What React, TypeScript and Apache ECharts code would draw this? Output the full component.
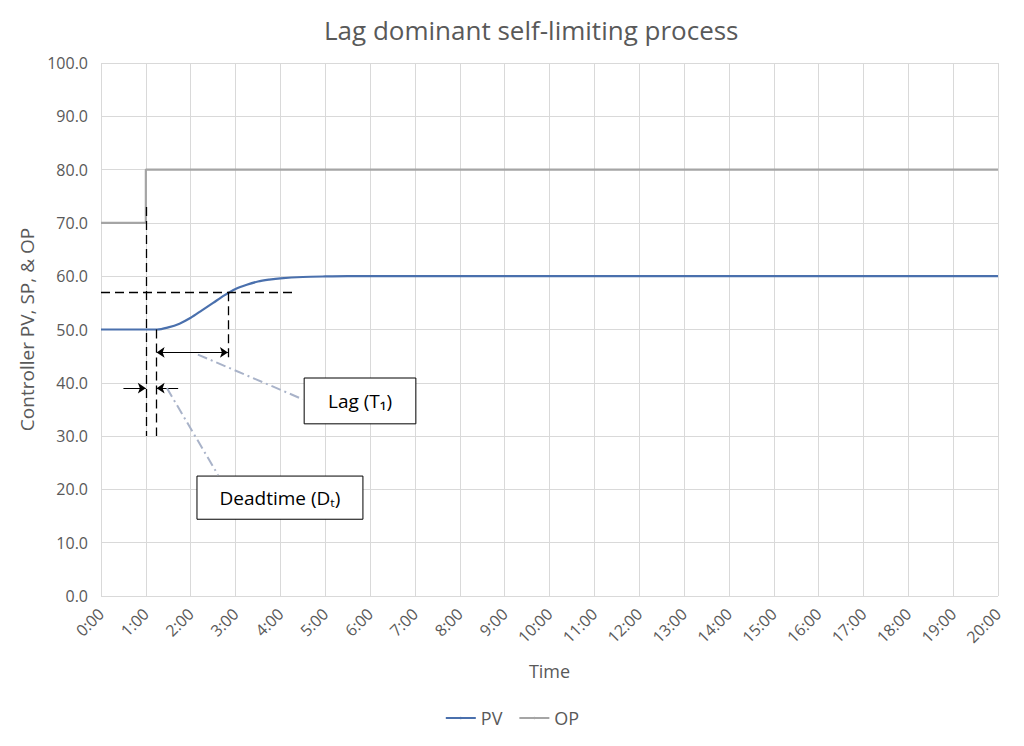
import React, { useEffect, useRef } from "react";
import * as echarts from "echarts";

const TITLE = "Lag dominant self-limiting process";
const seriesNames = ["PV", "OP"];
// time in minutes
const pvTime = [0, 1, 1.25, 1.5, 1.75, 2, 2.25, 2.5, 2.75, 3, 3.25, 3.5, 3.75, 4, 4.5, 5, 5.5, 6, 20];
const pvValues = [50, 50, 50, 50.4, 51.1, 52.2, 53.6, 55.0, 56.4, 57.6, 58.4, 59.0, 59.35, 59.6, 59.85, 59.95, 60, 60, 60];
const opTime = [0, 1, 1, 20];
const opValues = [70, 70, 80, 80];
const xTicks = Array.from({ length: 21 }, (_, i) => `${i}:00`);

// annotation geometry in data coordinates [time, value]
const dashedLines: number[][][] = [
  [[1, 73], [1, 30]],
  [[0, 57], [4.3, 57]],
  [[1.24, 50], [1.24, 30]],
  [[2.83, 57], [2.83, 44]],
];
const doubleArrow: number[][] = [[1.24, 45.7], [2.83, 45.7]];
const singleArrows: number[][][] = [
  [[0.5, 39], [1, 39]],
  [[1.72, 39], [1.24, 39]],
];
const leaderLines: number[][][] = [
  [[2.16, 45.3], [4.5, 36.9]],
  [[1.47, 39], [2.61, 22.7]],
];
const boxLabels = ["Lag (T\u2081)", "Deadtime (D\u209c)"];
const boxes: number[][][] = [
  [[4.53, 40.9], [7.02, 32.3]],
  [[2.14, 22.5], [5.84, 14.4]],
];

const FONT = "'Open Sans', sans-serif";
const TXT = "#595959";

export default function App() {
  const ref = useRef<HTMLDivElement>(null);
  useEffect(() => {
    if (!ref.current) return;
    const chart = echarts.init(ref.current, undefined, { renderer: "svg" });
    const markLineData: any[] = [];
    dashedLines.forEach((l) =>
      markLineData.push([
        { coord: l[0], symbol: "none", lineStyle: { type: [9, 5], color: "#000", width: 1.3 } },
        { coord: l[1], symbol: "none" },
      ])
    );
    markLineData.push([
      { coord: doubleArrow[0], symbol: "arrow", lineStyle: { type: "solid", color: "#000", width: 1 } },
      { coord: doubleArrow[1], symbol: "arrow" },
    ]);
    singleArrows.forEach((l) =>
      markLineData.push([
        { coord: l[0], symbol: "none", lineStyle: { type: "solid", color: "#000", width: 1 } },
        { coord: l[1], symbol: "arrow" },
      ])
    );
    leaderLines.forEach((l) =>
      markLineData.push([
        { coord: l[0], symbol: "none", lineStyle: { type: [10, 4, 2, 4], color: "#a9b3c9", width: 2 } },
        { coord: l[1], symbol: "none" },
      ])
    );
    const option: any = {
      animation: false,
      textStyle: { fontFamily: FONT },
      title: {
        text: TITLE,
        left: 311,
        top: 4,
        textStyle: { fontSize: 26, fontWeight: "normal", color: TXT, fontFamily: FONT },
      },
      grid: { left: 93, right: 18, top: 55, bottom: 142 },
      legend: {
        data: seriesNames,
        bottom: 6,
        left: "center",
        itemWidth: 30,
        itemHeight: 3,
        itemGap: 16,
        textStyle: { fontSize: 18, color: TXT, fontFamily: FONT },
      },
      xAxis: {
        type: "value",
        min: 0,
        max: 20,
        interval: 1,
        name: "Time",
        nameLocation: "middle",
        nameGap: 66,
        nameTextStyle: { fontSize: 18, color: TXT, fontFamily: FONT },
        axisLine: { show: false },
        axisTick: { show: false },
        axisLabel: {
          rotate: 45,
          fontSize: 16,
          color: TXT,
          fontFamily: FONT,
          margin: 15,
          formatter: (v: number) => xTicks[Math.round(v)],
        },
        splitLine: { lineStyle: { color: "#d9d9d9", width: 1 } },
      },
      yAxis: {
        type: "value",
        min: 0,
        max: 100,
        interval: 10,
        name: "Controller PV, SP, & OP",
        nameLocation: "middle",
        nameGap: 64,
        nameTextStyle: { fontSize: 19, color: TXT, fontFamily: FONT },
        axisLine: { show: false },
        axisTick: { show: false },
        axisLabel: {
          fontSize: 16,
          color: TXT,
          fontFamily: FONT,
          margin: 13,
          formatter: (v: number) => v.toFixed(1),
        },
        splitLine: { lineStyle: { color: "#d9d9d9", width: 1 } },
      },
      series: [
        {
          name: seriesNames[0],
          type: "line",
          data: pvTime.map((t, i) => [t, pvValues[i]]),
          smooth: 0.3,
          symbol: "none",
          lineStyle: { color: "#4a70ad", width: 2.2 },
          itemStyle: { color: "#4a70ad" },
          z: 3,
          markLine: {
            silent: true,
            animation: false,
            symbolSize: [8, 8],
            label: { show: false },
            emphasis: { disabled: true },
            data: markLineData,
          },
          markArea: {
            silent: true,
            itemStyle: { color: "#ffffff", borderColor: "#000", borderWidth: 1 },
            label: {
              show: true,
              position: "inside",
              fontSize: 19,
              color: "#000",
              fontFamily: FONT,
            },
            emphasis: { disabled: true },
            data: boxes.map((b, i) => [
              { name: boxLabels[i], coord: b[0] },
              { coord: b[1] },
            ]),
          },
        },
        {
          name: seriesNames[1],
          type: "line",
          data: opTime.map((t, i) => [t, opValues[i]]),
          symbol: "none",
          lineStyle: { color: "#a5a5a5", width: 2.2 },
          itemStyle: { color: "#a5a5a5" },
          z: 2,
        },
      ],
    };
    chart.setOption(option);
    return () => chart.dispose();
  }, []);
  return <div ref={ref} style={{ width: 1008, height: 730 }} />;
}
